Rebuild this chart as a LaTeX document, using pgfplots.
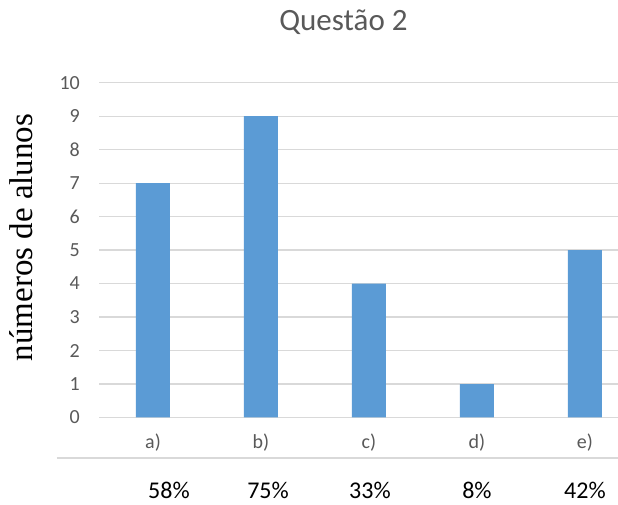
\documentclass[border=0pt]{standalone}
\usepackage{fontspec}
\setmainfont{Carlito}
\newfontfamily\seriffont{Liberation Serif}
\usepackage{pgfplots}
\pgfplotsset{compat=1.18}
\definecolor{barblue}{HTML}{5B9BD5}
\definecolor{labelgray}{HTML}{595959}
\definecolor{gridgray}{HTML}{D9D9D9}

\begin{document}
\begin{tikzpicture}[x=1pt,y=1pt]
\begin{axis}[
  at={(99pt,87.5pt)}, anchor=south west,
  scale only axis, width=519pt, height=334.8pt,
  xmin=-0.5, xmax=4.306, ymin=0, ymax=10,
  clip=false,
  axis line style={draw=none},
  major tick length=0pt,
  ytick={0,1,...,10},
  ymajorgrids,
  grid style={gridgray, line width=1.2pt},
  xtick={0,1,2,3,4},
  xticklabels={a),b),c),d),e)},
  /pgf/number format/assume math mode=true,
  tick label style={font=\fontsize{20}{24}\selectfont, text=labelgray, inner sep=0pt},
  yticklabel style={anchor=east, xshift=-19pt},
  xticklabel style={anchor=base, yshift=-31.5pt},
  title={Questão 2},
  title style={font=\fontsize{31}{36}\selectfont, text=labelgray, anchor=base,
    at={(axis description cs:0.471,1.1365)}},
  ylabel={números de alunos},
  ylabel style={font=\seriffont\fontsize{33}{38}\selectfont, text=black, anchor=center,
    at={(axis description cs:-0.150,0.5376)}, rotate=0},
]
  % students per answer option
  \addplot[ybar, bar width=34pt, fill=barblue, draw=none]
    coordinates {(0,7) (1,9) (2,4) (3,1) (4,5)};

  % separator line under the option letters
  \draw[gridgray, line width=1.2pt] (axis cs:-0.889,-1.21) -- (axis cs:4.306,-1.21);

  % share of correct answers per option
  \begin{scope}[every node/.style={font=\fontsize{24}{28}\selectfont, text=black, anchor=base, inner sep=0pt}]
    \node at (axis cs:0.148,-2.42) {58\%};
    \node at (axis cs:1.065,-2.42) {75\%};
    \node at (axis cs:2.009,-2.42) {33\%};
    \node at (axis cs:3.000,-2.42) {8\%};
    \node at (axis cs:4.000,-2.42) {42\%};
  \end{scope}
\end{axis}
\pgfresetboundingbox
\path[use as bounding box] (0,0) rectangle (618,505);
\end{tikzpicture}
\end{document}
